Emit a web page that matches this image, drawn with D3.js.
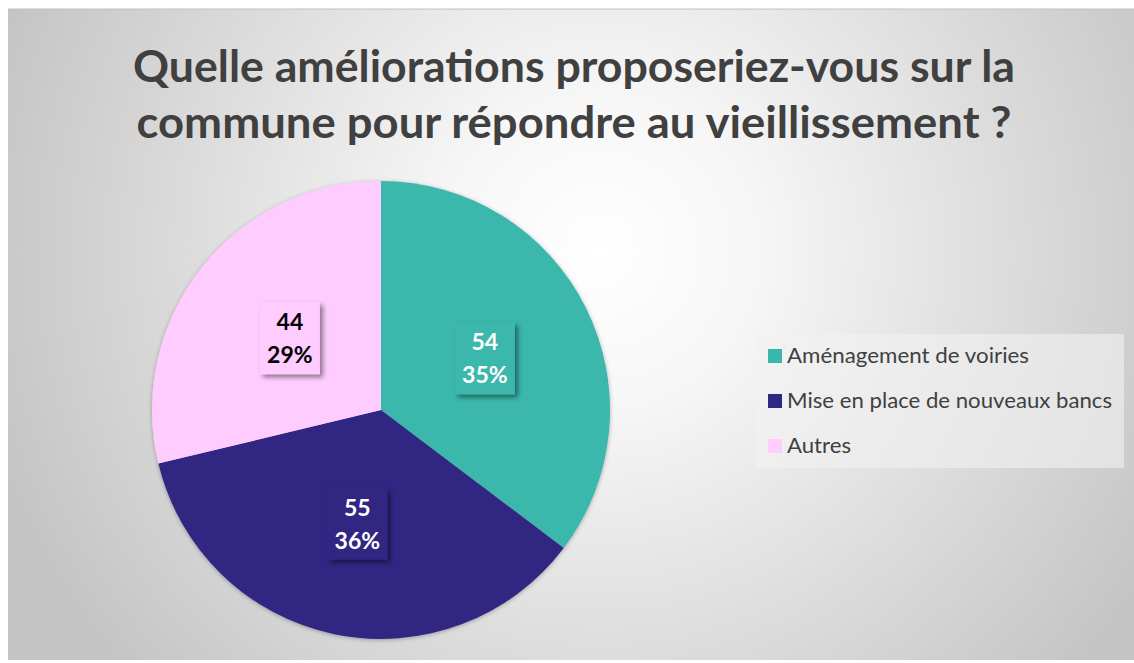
<!DOCTYPE html>
<html>
<head>
<meta charset="utf-8">
<script src="https://cdn.jsdelivr.net/npm/d3@7"></script>
<style>
  html, body { margin: 0; padding: 0; background: #ffffff; }
  svg { display: block; }
</style>
</head>
<body>
<svg id="chart" width="1134" height="663"></svg>
<script>
const titleLines = ["Quelle améliorations proposeriez-vous sur la", "commune pour répondre au vieillissement ?"];
const categories = ["Aménagement de voiries", "Mise en place de nouveaux bancs", "Autres"];
const values = [54, 55, 44];
const percentLabels = ["35%", "36%", "29%"];
const colors = ["#3AB7AC", "#302683", "#FFCCFF"];
const labelTextColors = ["#ffffff", "#ffffff", "#000000"];

const W = 1134, H = 663;
const svg = d3.select("#chart");
const defs = svg.append("defs");

const grad = defs.append("radialGradient").attr("id", "bg")
  .attr("gradientUnits", "userSpaceOnUse")
  .attr("cx", 600).attr("cy", 250).attr("r", 640);
grad.append("stop").attr("offset", "0").attr("stop-color", "#ffffff");
grad.append("stop").attr("offset", "0.25").attr("stop-color", "#f6f6f6");
grad.append("stop").attr("offset", "1").attr("stop-color", "#c4c4c4");

const sh = defs.append("filter").attr("id", "shadow")
  .attr("x", "-20%").attr("y", "-20%").attr("width", "150%").attr("height", "150%");
sh.append("feDropShadow").attr("dx", 3).attr("dy", 3).attr("stdDeviation", 2.5)
  .attr("flood-color", "#000").attr("flood-opacity", 0.45);

const pieSh = defs.append("filter").attr("id", "pieshadow")
  .attr("x", "-10%").attr("y", "-10%").attr("width", "120%").attr("height", "120%");
pieSh.append("feDropShadow").attr("dx", 0).attr("dy", 1).attr("stdDeviation", 2)
  .attr("flood-color", "#000").attr("flood-opacity", 0.3);

// background
svg.append("rect").attr("x", 8).attr("y", 9).attr("width", W - 8).attr("height", 651)
  .attr("fill", "url(#bg)");
svg.append("line").attr("x1", 8).attr("x2", W).attr("y1", 9).attr("y2", 9)
  .attr("stroke", "#c0c0c0").attr("stroke-width", 1);

const fontFam = "Lato, 'Open Sans', 'DejaVu Sans', sans-serif";

// title (glyphs compressed to match the narrower original face)
const titleTargets = [882, 875];
const titleY = [82, 138];
titleLines.forEach((t, i) => {
  svg.append("text")
    .attr("x", 574 - titleTargets[i] / 2).attr("y", titleY[i])
    .attr("font-family", fontFam).attr("font-weight", "bold")
    .attr("font-size", 44)
    .attr("textLength", titleTargets[i]).attr("lengthAdjust", "spacingAndGlyphs")
    .attr("fill", "#404040")
    .text(t);
});

// pie
const cx = 381, cy = 410, R = 229;
const pie = d3.pie().sort(null).value(d => d)(values);
const arc = d3.arc().innerRadius(0).outerRadius(R);
const labelArc = d3.arc().innerRadius(116).outerRadius(116);

const g = svg.append("g").attr("transform", `translate(${cx},${cy})`);
g.append("g").attr("filter", "url(#pieshadow)")
  .selectAll("path").data(pie).join("path")
  .attr("d", arc)
  .attr("fill", (d, i) => colors[i]);

// labels
pie.forEach((d, i) => {
  const [lx, ly] = labelArc.centroid(d);
  const lg = g.append("g").attr("transform", `translate(${lx},${ly})`);
  lg.append("rect")
    .attr("x", -30).attr("y", -36).attr("width", 60).attr("height", 72)
    .attr("fill", colors[i]).attr("filter", "url(#shadow)");
  lg.append("text").attr("y", -8).attr("text-anchor", "middle")
    .attr("font-family", fontFam).attr("font-weight", "bold")
    .attr("font-size", 23).attr("fill", labelTextColors[i])
    .text(values[i]);
  lg.append("text").attr("y", 25).attr("text-anchor", "middle")
    .attr("font-family", fontFam).attr("font-weight", "bold")
    .attr("font-size", 23).attr("fill", labelTextColors[i])
    .text(percentLabels[i]);
});

// legend
const legWidths = [242, 325, 64];
const leg = svg.append("g");
leg.append("rect").attr("x", 756).attr("y", 334).attr("width", 368).attr("height", 134)
  .attr("fill", "#f2f2f2").attr("fill-opacity", 0.6);
const legY = d3.scalePoint().domain(categories).range([356, 446]);
const items = leg.selectAll("g.item").data(categories).join("g")
  .attr("class", "item")
  .attr("transform", d => `translate(768,${legY(d)})`);
items.append("rect").attr("x", 0).attr("y", -7).attr("width", 14).attr("height", 14)
  .attr("fill", (d, i) => colors[i]);
items.append("text").attr("x", 19).attr("y", 7)
  .attr("font-family", fontFam).attr("fill", "#404040")
  .attr("font-size", 21)
  .attr("textLength", (d, i) => legWidths[i]).attr("lengthAdjust", "spacingAndGlyphs")
  .text(d => d);
</script>
</body>
</html>
